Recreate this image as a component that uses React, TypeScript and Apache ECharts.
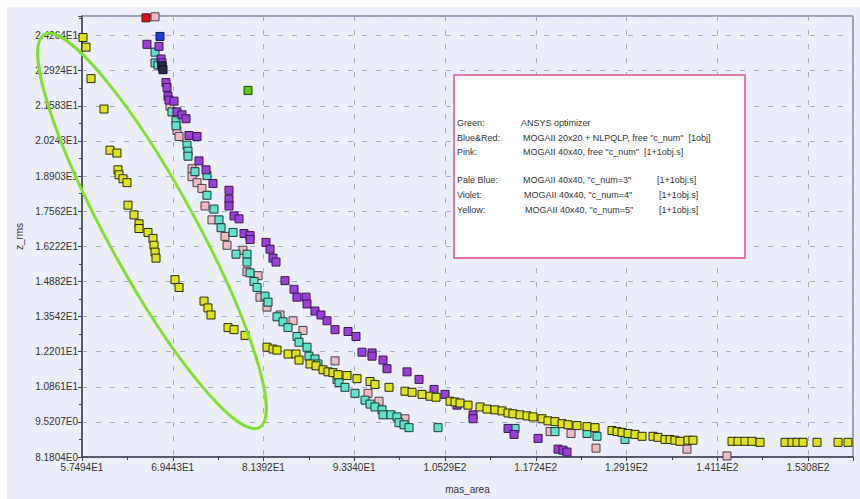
import React, { useEffect, useRef } from "react";
import * as echarts from "echarts";

const xLabels = ["5.7494E1", "6.9443E1", "8.1392E1", "9.3340E1", "1.0529E2", "1.1724E2", "1.2919E2", "1.4114E2", "1.5308E2"];
const yLabels = ["8.1804E0", "9.5207E0", "1.0861E1", "1.2201E1", "1.3542E1", "1.4882E1", "1.6222E1", "1.7562E1", "1.8903E1", "2.0243E1", "2.1583E1", "2.2924E1", "2.4264E1"];

const xMin = 57.494, xStep = 11.949, xMax = 159.01;
const yMin = 8.1804, yStep = 1.34028, yMax = 25.01;

const yellowPts = [
  [57.63, 24.19], [58.02, 23.82], [58.68, 22.62], [60.39, 21.46], [61.18, 19.89], [62.1, 19.78], [62.23, 19.14], [62.37, 18.95],
  [62.89, 18.8], [63.42, 18.65], [63.55, 17.79], [64.34, 17.42], [65.0, 17.08], [65.0, 16.9], [66.18, 16.75], [66.84, 16.52],
  [66.97, 16.26], [67.11, 16.0], [67.24, 15.77], [69.74, 14.95], [70.27, 14.65], [73.56, 14.13], [74.08, 13.87], [74.48, 13.6],
  [76.72, 13.12], [77.51, 13.04], [78.96, 12.82], [81.85, 12.37], [82.64, 12.3], [83.17, 12.26], [84.62, 12.11], [85.67, 12.11],
  [86.07, 11.88], [87.52, 11.73], [88.31, 11.66], [89.23, 11.51], [89.89, 11.43], [90.54, 11.4], [91.2, 11.32], [92.39, 11.29],
  [93.7, 11.17], [95.42, 11.06], [96.07, 10.95], [97.92, 10.84], [100.02, 10.69], [100.95, 10.65], [102.26, 10.57], [103.32, 10.5],
  [104.11, 10.46], [105.95, 10.31], [106.61, 10.28], [107.27, 10.24], [108.32, 10.16], [109.9, 10.09], [110.82, 10.01], [111.87, 9.98],
  [112.8, 9.94], [113.59, 9.86], [114.24, 9.83], [115.17, 9.79], [116.09, 9.75], [116.88, 9.71], [118.06, 9.64], [118.85, 9.56],
  [119.77, 9.53], [120.7, 9.45], [121.49, 9.41], [122.67, 9.38], [123.99, 9.34], [125.04, 9.3], [127.28, 9.19], [127.94, 9.15],
  [128.6, 9.12], [129.39, 9.08], [130.31, 9.04], [131.23, 8.97], [132.68, 8.97], [133.34, 8.93], [134.26, 8.85], [134.92, 8.85],
  [135.57, 8.82], [136.23, 8.78], [137.29, 8.82], [137.94, 8.82], [143.08, 8.78], [143.87, 8.78], [144.79, 8.78], [145.71, 8.78],
  [146.77, 8.74], [150.06, 8.74], [150.98, 8.74], [151.64, 8.74], [152.43, 8.74], [154.27, 8.74], [157.04, 8.74], [158.35, 8.74],
];

const violetPts = [
  [66.05, 23.93], [67.63, 23.85], [67.9, 23.37], [68.03, 23.22], [68.03, 23.07], [68.55, 22.47], [68.69, 22.28], [68.82, 21.95],
  [68.95, 21.8], [69.61, 21.76], [70.0, 21.35], [70.66, 21.24], [71.19, 21.09], [71.58, 20.45], [72.64, 20.41], [72.9, 19.48],
  [73.82, 19.14], [74.74, 18.62], [76.85, 18.36], [76.85, 18.02], [76.85, 17.76], [77.51, 17.38], [78.17, 17.27], [78.83, 16.71],
  [79.62, 16.63], [79.62, 16.48], [81.72, 16.37], [82.25, 16.11], [82.64, 15.77], [83.04, 15.62], [84.22, 14.91], [85.41, 14.58],
  [85.8, 14.28], [86.99, 14.28], [87.12, 14.02], [88.17, 13.75], [88.96, 13.6], [89.75, 13.38], [90.81, 13.04], [92.52, 12.97],
  [93.57, 12.78], [94.36, 12.18], [95.68, 12.15], [95.68, 12.03], [97.13, 11.88], [97.65, 11.55], [100.29, 11.43], [101.87, 11.14],
  [103.84, 10.76], [105.29, 10.57], [106.87, 10.16], [108.98, 9.79], [108.98, 9.64], [113.59, 9.27], [114.38, 9.04], [117.54, 8.89],
  [120.17, 8.48], [120.83, 8.44], [121.35, 8.37],
];

const cyanPts = [
  [67.11, 23.63], [67.11, 23.22], [67.5, 23.14], [69.34, 21.35], [69.87, 21.01], [69.87, 20.82], [71.32, 20.08], [71.45, 19.85],
  [71.45, 19.66], [72.37, 19.07], [73.95, 18.92], [73.95, 18.17], [74.87, 17.64], [75.53, 17.23], [75.8, 16.93], [77.38, 16.75],
  [77.77, 15.92], [79.22, 15.92], [79.22, 15.62], [79.62, 15.21], [80.14, 14.88], [80.54, 14.65], [81.59, 14.32], [81.99, 14.09],
  [83.17, 13.53], [83.96, 13.34], [84.62, 13.12], [85.8, 12.78], [86.07, 12.56], [87.12, 12.37], [87.38, 12.03], [88.17, 11.92],
  [88.57, 11.73], [91.07, 11.14], [91.33, 11.02], [92.12, 10.84], [93.44, 10.61], [94.76, 10.35], [95.42, 10.2], [96.07, 10.09],
  [97.0, 9.98], [97.13, 9.79], [98.18, 9.79], [98.97, 9.71], [99.23, 9.49], [99.89, 9.41], [100.55, 9.3], [104.37, 9.3],
  [114.51, 9.27], [119.77, 9.15], [123.99, 9.08], [125.3, 8.97], [128.99, 8.85],
];

const pinkPts = [
  [67.11, 24.98], [69.08, 21.57], [70.0, 20.64], [70.27, 20.41], [71.98, 19.18], [71.98, 18.88], [72.64, 18.65], [73.29, 18.43],
  [73.69, 17.76], [74.61, 17.23], [76.32, 16.6], [76.59, 16.26], [78.69, 16.07], [79.22, 15.25], [80.67, 15.1], [80.93, 14.28],
  [81.85, 13.9], [83.57, 13.6], [85.28, 13.38], [86.59, 13.01], [90.81, 11.85], [95.15, 10.61], [96.6, 10.31], [100.02, 9.64],
  [119.12, 9.15], [121.88, 9.08], [125.17, 8.52], [137.15, 8.48], [142.42, 8.22],
];

const bluePts = [[67.76, 24.23]];
const navyPts = [[68.03, 23.11], [68.16, 22.96]];
const redPts = [[65.92, 24.94]];
const greenPts = [[79.35, 22.17]];

const legendLabels = ["Green:", "Blue&Red:", "Pink:", "Pale Blue:", "Violet:", "Yellow:"];
const legendDescs = [
  "ANSYS optimizer",
  "MOGAII 20x20 + NLPQLP, free \"c_num\"  [1obj]",
  "MOGAII 40x40, free \"c_num\"  [1+1obj.s]",
  "MOGAII 40x40, \"c_num=3\"",
  "MOGAII 40x40, \"c_num=4\"",
  "MOGAII 40x40, \"c_num=5\"",
];
const legendTags = ["", "", "", "[1+1obj.s]", "[1+1obj.s]", "[1+1obj.s]"];

const FONT = "'Liberation Sans', Arial, sans-serif";

function sq(name: string, data: number[][], color: string, border: string) {
  return {
    name,
    type: "scatter",
    data,
    symbol: "rect",
    symbolSize: 8,
    itemStyle: { color, borderColor: border, borderWidth: 1, opacity: 1 },
    emphasis: { disabled: true },
  };
}

export default function App() {
  const ref = useRef<HTMLDivElement>(null);
  useEffect(() => {
    const chart = echarts.init(ref.current!, null, { renderer: "svg" });
    const rowY = [123, 138, 152, 180, 195, 210];
    const descX = [521, 523, 523, 523, 524, 525];
    const tagX = [0, 0, 0, 657, 659, 659];
    const legendEls: any[] = [];
    legendLabels.forEach((t, i) => {
      legendEls.push({ type: "text", x: 457, y: rowY[i], z: 102, style: { text: t, font: `9px ${FONT}`, fill: "#333", verticalAlign: "middle" } });
      legendEls.push({ type: "text", x: descX[i], y: rowY[i], z: 102, style: { text: legendDescs[i], font: `9px ${FONT}`, fill: "#333", verticalAlign: "middle" } });
      if (legendTags[i]) legendEls.push({ type: "text", x: tagX[i], y: rowY[i], z: 102, style: { text: legendTags[i], font: `9px ${FONT}`, fill: "#333", verticalAlign: "middle" } });
    });
    chart.setOption({
      animation: false,
      backgroundColor: "#eceef9",
      grid: { left: 82, top: 16, right: 7, bottom: 33, show: true, borderColor: "#50506a", borderWidth: 1, backgroundColor: "transparent" },
      xAxis: {
        type: "value",
        min: xMin,
        max: xMax,
        interval: xStep,
        name: "mas_area",
        nameLocation: "middle",
        nameGap: 27,
        nameTextStyle: { fontFamily: FONT, fontSize: 10, color: "#333" },
        axisLine: { show: true, lineStyle: { color: "#40405a", width: 1.5 } },
        axisTick: { show: true, length: 4, lineStyle: { color: "#40405a" } },
        minorTick: { show: true, splitNumber: 2, length: 3, lineStyle: { color: "#40405a" } },
        axisLabel: { fontFamily: FONT, fontSize: 10, color: "#333", margin: 5, formatter: (_v: number, i: number) => xLabels[i] ?? "" },
        splitLine: { show: true, lineStyle: { color: "#a4aacb", type: [5, 9], width: 1 } },
      },
      yAxis: {
        type: "value",
        min: yMin,
        max: yMax,
        interval: yStep,
        name: "z_rms",
        nameLocation: "middle",
        nameGap: 53,
        nameRotate: 90,
        nameTextStyle: { fontFamily: FONT, fontSize: 10, color: "#333" },
        axisLine: { show: true, lineStyle: { color: "#40405a", width: 1.5 } },
        axisTick: { show: true, length: 4, lineStyle: { color: "#40405a" } },
        minorTick: { show: true, splitNumber: 2, length: 3, lineStyle: { color: "#40405a" } },
        axisLabel: { fontFamily: FONT, fontSize: 10, color: "#333", margin: 4, formatter: (_v: number, i: number) => yLabels[i] ?? "" },
        splitLine: { show: true, lineStyle: { color: "#a4aacb", type: [5, 9], width: 1 } },
      },
      series: [
        sq("Pink", pinkPts, "#f1b9c4", "#4a4048"),
        sq("Pale Blue", cyanPts, "#5fe3cd", "#1e3a38"),
        sq("Violet", violetPts, "#9b3fda", "#3a1850"),
        sq("Yellow", yellowPts, "#dfe31a", "#2a2a10"),
        sq("Blue", bluePts, "#1840d8", "#101850"),
        sq("Navy", navyPts, "#2a2a48", "#101020"),
        sq("Red", redPts, "#e01414", "#501010"),
        sq("Green", greenPts, "#5fcc1c", "#204010"),
      ],
      graphic: [
        { type: "rect", x: 0, y: 0, z: 100, shape: { width: 860, height: 7 }, style: { fill: "#ffffff" } },
        { type: "rect", x: 0, y: 0, z: 100, shape: { width: 7, height: 499 }, style: { fill: "#ffffff" } },
        {
          type: "ellipse",
          x: 152,
          y: 231,
          rotation: -1.07,
          z: 100,
          shape: { cx: 0, cy: 0, rx: 224, ry: 44 },
          style: { fill: "none", stroke: "#80e030", lineWidth: 3 },
        },
        { type: "rect", x: 454, y: 75, z: 101, shape: { width: 291, height: 183 }, style: { fill: "#ffffff", stroke: "#e0508c", lineWidth: 1.5 } },
        ...legendEls,
      ],
    });
    return () => chart.dispose();
  }, []);
  return <div ref={ref} style={{ position: "fixed", left: 0, top: 0, width: 860, height: 499 }} />;
}
